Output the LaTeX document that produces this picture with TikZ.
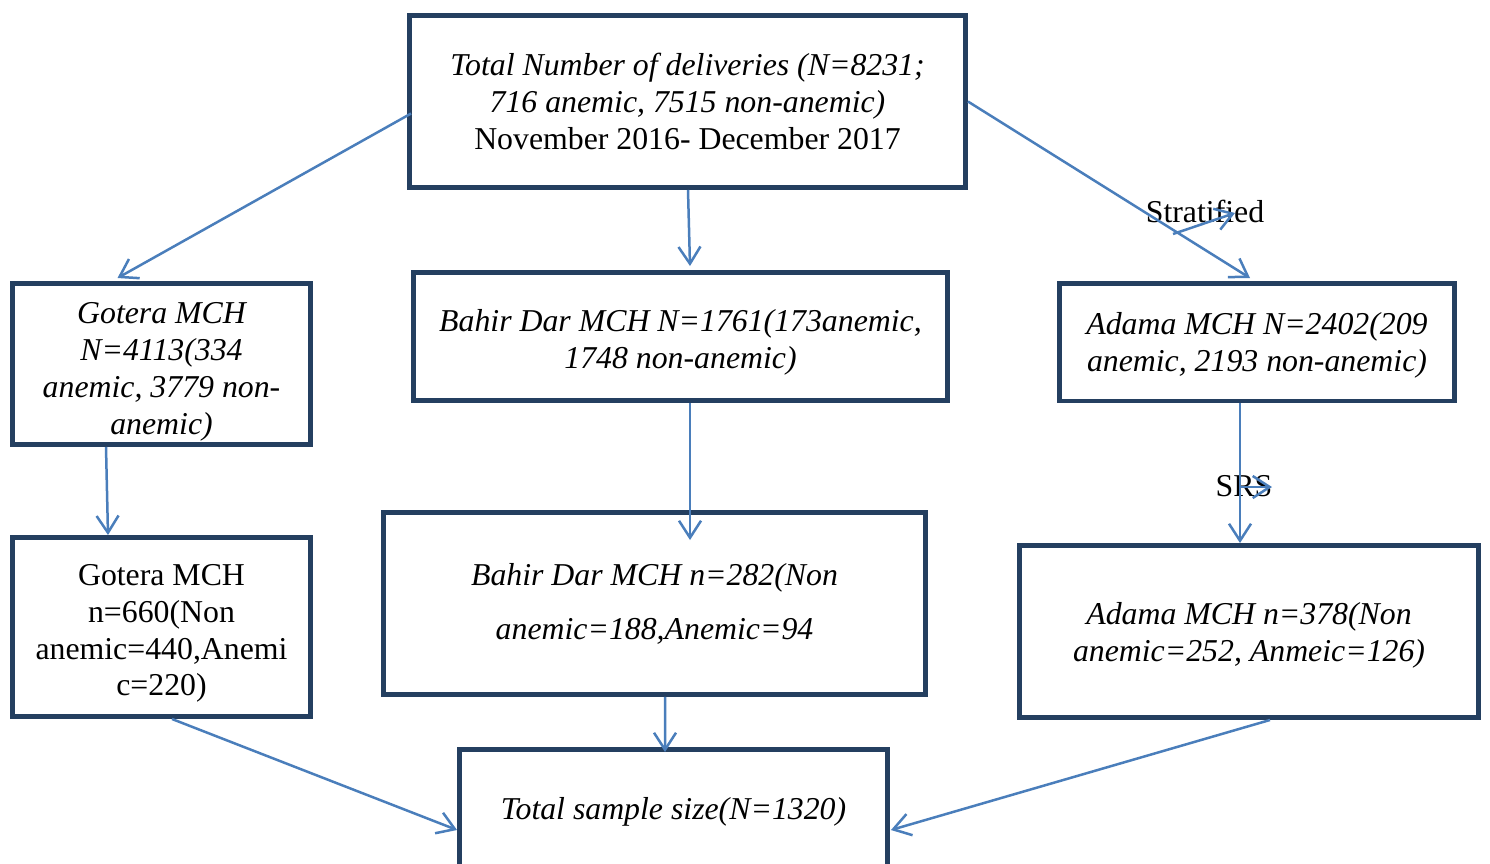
\documentclass[tikz,border=0pt]{standalone}
\usepackage{fontspec}
\setmainfont{Liberation Serif}
\usepackage{tikz}
\usetikzlibrary{arrows.meta,calc}
\definecolor{boxblue}{RGB}{36,63,96}
\definecolor{arrblue}{RGB}{74,126,187}

\begin{document}
\begin{tikzpicture}[x=0.02cm,y=-0.02cm,
  box/.style={draw=boxblue,line width=0.09cm,inner sep=0pt,align=center,
    font=\fontsize{18.1}{21}\selectfont},
  arr/.style={draw=arrblue,line width=0.05cm,-{Straight Barb[length=0.34cm,width=0.44cm]}},
  lbl/.style={font=\fontsize{18.1}{21}\selectfont,inner sep=0pt}]
\clip (0,0) rectangle (1490,863);
% boxes
\node[box,minimum width=11.13cm,minimum height=3.45cm] (top) at (687.5,101.5)
  {\itshape Total Number of deliveries (N=8231;\\ \itshape 716 anemic, 7515 non-anemic)\\ November 2016- December 2017};
\node[box,minimum width=5.97cm,minimum height=3.23cm] (gotera1) at (161.5,364)
  {\rule{0pt}{21pt}\itshape Gotera MCH\\ \itshape N=4113(334\\ \itshape anemic, 3779 non-\\ \itshape anemic)};
\node[box,minimum width=10.69cm,minimum height=2.57cm] (bahir1) at (680.5,336.5)
  {\rule{0pt}{18.7pt}\itshape Bahir Dar MCH N=1761(173anemic,\\ \itshape 1748 non-anemic)};
\node[box,minimum width=7.91cm,minimum height=2.35cm] (adama1) at (1257,342)
  {\rule{0pt}{16.5pt}\itshape Adama MCH N=2402(209\\ \itshape anemic, 2193 non-anemic)};
\node[box,minimum width=5.97cm,minimum height=3.59cm] (gotera2) at (161.5,627)
  {\rule{0pt}{19.3pt}Gotera MCH\\ n=660(Non\\ anemic=440,Anemi\\ c=220)};
\node[box,minimum width=10.85cm,minimum height=3.65cm] (bahir2) at (654.5,603.5)
  {\itshape Bahir Dar MCH n=282(Non\\[0.34cm] \itshape anemic=188,Anemic=94};
\node[box,minimum width=9.19cm,minimum height=3.45cm] (adama2) at (1249,631.5)
  {\rule{0pt}{16.5pt}\itshape Adama MCH n=378(Non\\ \itshape anemic=252, Anmeic=126)};
\node[box,minimum width=8.57cm,minimum height=2.37cm] (total) at (673.5,808.5)
  {\rule{0pt}{15.9pt}\itshape Total sample size(N=1320)};
% labels
\node[lbl] (strat) at (1205,211) {Stratified};
\node[lbl] (srs) at (1244,486) {SRS};
% arrows
\draw[arr] ($(top.west)+(4,12)$) -- ($(gotera1.north)+(-44,-3)$);
\draw[arr] ($(top.south)+(0.5,0)$) -- ($(bahir1.north)+(9.5,-4)$);
\draw[arr] (top.east) -- ($(adama1.north)+(-7,-3)$);
\draw[arr] ($(strat)+(-32,23)$) -- ($(strat)+(30,2)$);
\draw[arr] ($(gotera1.south)+(-55.5,0)$) -- ($(gotera2.north)+(-53.5,0)$);
\draw[arr] ($(bahir1.south)+(9.5,0)$) -- ($(bahir2.north)+(35.5,30)$);
\draw[arr] ($(adama1.south)+(-17,0)$) -- ($(adama2.north)+(-9,0)$);
\draw[arr] ($(srs)+(-4,1)$) -- ($(srs)+(28,1)$);
\draw[arr] ($(bahir2.south)+(10.5,0)$) -- ($(total.north)+(-8.5,5)$);
\draw[arr] ($(gotera2.south)+(10.5,0)$) -- ($(total.west)+(0,21.5)$);
\draw[arr] ($(adama2.south)+(21,0)$) -- ($(total.east)+(1,21.5)$);
\end{tikzpicture}
\end{document}
